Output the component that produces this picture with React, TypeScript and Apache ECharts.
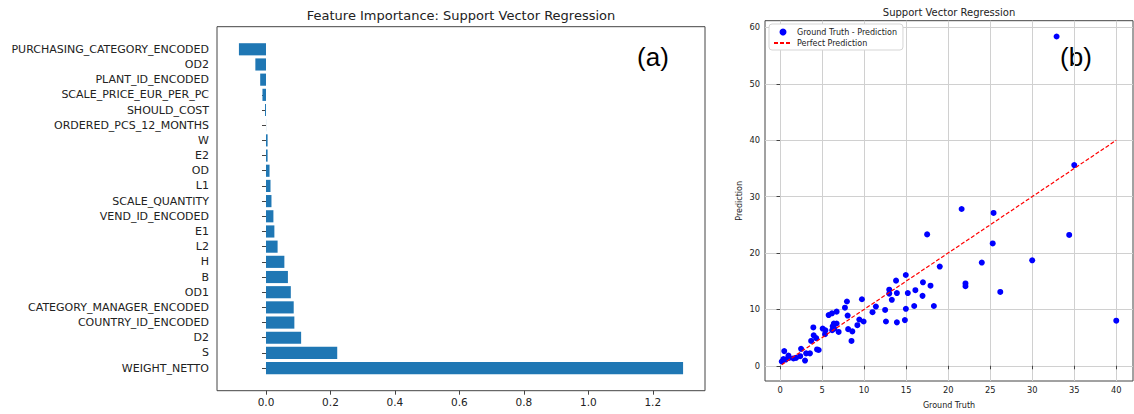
import React, { useEffect, useRef } from "react";
import * as echarts from "echarts";

// ---------- Panel (a): feature importance (listed bottom -> top) ----------
const featureNames = [
  "WEIGHT_NETTO", "S", "D2", "COUNTRY_ID_ENCODED", "CATEGORY_MANAGER_ENCODED",
  "OD1", "B", "H", "L2", "E1", "VEND_ID_ENCODED", "SCALE_QUANTITY", "L1", "OD",
  "E2", "W", "ORDERED_PCS_12_MONTHS", "SHOULD_COST", "SCALE_PRICE_EUR_PER_PC",
  "PLANT_ID_ENCODED", "OD2", "PURCHASING_CATEGORY_ENCODED",
];
const importance = [
  1.294, 0.221, 0.109, 0.088, 0.086,
  0.077, 0.068, 0.057, 0.036, 0.026, 0.023, 0.017, 0.014, 0.011,
  0.005, 0.005, 0.0003, -0.003, -0.011,
  -0.018, -0.033, -0.084,
];
const importanceTicks = [0, 0.2, 0.4, 0.6, 0.8, 1.0, 1.2];

// ---------- Panel (b): ground truth vs prediction ----------
const groundTruth = [
  0.2, 0.5, 0.4, 0.67, 1.0, 1.07, 1.6, 1.9, 2.4, 2.5, 2.97, 3.1, 3.56, 3.7,
  3.96, 4.0, 4.3, 4.4, 4.6, 5.07, 5.35, 5.4, 5.78, 6.18, 6.2, 6.26, 6.4, 6.45,
  6.73, 6.73, 6.97, 7.72, 7.96, 8.04, 8.1, 8.5, 8.6, 9.2, 9.43, 9.74, 9.94,
  11.0, 11.4, 12.5, 12.6, 12.99, 12.99, 13.3, 13.8, 13.9, 13.9, 14.85, 14.97,
  14.96, 15.2, 15.96, 16.1, 16.95, 17.0, 17.5, 17.9, 18.3, 19.0, 21.6, 22.06,
  22.06, 24.0, 25.3, 25.4, 26.2, 30.0, 32.9, 34.4, 35.0, 40.0,
];
const prediction = [
  0.76, 2.6, 1.2, 1.1, 1.8, 1.4, 1.3, 1.4, 1.7, 3.0, 0.93, 2.2, 2.2, 4.4,
  6.8, 5.4, 4.9, 2.9, 2.8, 6.6, 5.6, 6.3, 9.0, 9.3, 6.3, 7.0, 7.5, 6.6,
  7.5, 9.6, 6.0, 10.3, 11.4, 8.9, 6.5, 4.4, 6.1, 7.2, 8.2, 11.8, 7.85,
  9.5, 10.5, 9.9, 7.85, 13.5, 12.8, 11.7, 15.1, 12.9, 7.7, 8.1, 10.1,
  16.1, 12.9, 10.6, 13.4, 12.4, 14.8, 23.3, 14.2, 10.6, 17.6, 27.8, 14.6,
  14.1, 18.3, 21.7, 27.1, 13.1, 18.7, 58.4, 23.2, 35.6, 8.0,
];
const gtTicks = [0, 5, 10, 15, 20, 25, 30, 35, 40];
const predTicks = [0, 10, 20, 30, 40, 50, 60];

const FONT = "DejaVu Sans";
const TXT = "#222";
const FRAME = "#444";

export default function App() {
  const ref = useRef<HTMLDivElement>(null);

  useEffect(() => {
    if (!ref.current) return;
    const chart = echarts.init(ref.current, undefined, { renderer: "svg" });

    const scatterData = groundTruth.map((g, i) => [g, prediction[i]]);
    const gMin = Math.min(...groundTruth);
    const gMax = Math.max(...groundTruth);

    chart.setOption({
      animation: false,
      backgroundColor: "#ffffff",
      textStyle: { fontFamily: FONT },
      grid: [
        { left: 217, right: 429, top: 41.7, bottom: 38.3, show: false },
        { left: 217, right: 429, top: 26.7, bottom: 23.3, show: true, borderColor: FRAME, borderWidth: 1, backgroundColor: "transparent" },
        { left: 765, right: 1, top: 20.7, bottom: 28, show: true, borderColor: FRAME, borderWidth: 1, backgroundColor: "transparent" },
      ],
      xAxis: [
        {
          type: "value", gridIndex: 0, min: -0.152, max: 1.362, offset: 15,
          axisLine: { show: false },
          axisTick: { show: true, length: 4, inside: false, lineStyle: { color: FRAME }, customValues: importanceTicks },
          axisLabel: { color: TXT, fontSize: 10.5, margin: 6, customValues: importanceTicks, formatter: (v: number) => v.toFixed(1) },
          splitLine: { show: false },
        },
        { type: "value", gridIndex: 1, show: false, min: 0, max: 1 },
        {
          type: "value", gridIndex: 2, min: -1.79, max: 41.99,
          name: "Ground Truth", nameLocation: "middle", nameGap: 20,
          nameTextStyle: { color: TXT, fontSize: 8, fontFamily: FONT },
          axisLine: { show: false },
          axisTick: { show: true, length: 3.5, lineStyle: { color: FRAME }, customValues: gtTicks },
          axisLabel: { color: TXT, fontSize: 8.3, margin: 5, customValues: gtTicks },
          splitLine: { show: true, lineStyle: { color: "#d0d0d0", width: 1 } },
        },
      ],
      yAxis: [
        {
          type: "category", gridIndex: 0, data: featureNames,
          axisLine: { show: false },
          axisTick: { show: true, alignWithLabel: true, length: 4, lineStyle: { color: FRAME } },
          axisLabel: { color: TXT, fontSize: 11, margin: 8, interval: 0 },
          splitLine: { show: false },
        },
        { type: "value", gridIndex: 1, show: false, min: 0, max: 1 },
        {
          type: "value", gridIndex: 2, min: -2.7, max: 61.2,
          name: "Prediction", nameLocation: "middle", nameGap: 22, nameRotate: 90,
          nameTextStyle: { color: TXT, fontSize: 8, fontFamily: FONT },
          axisLine: { show: false },
          axisTick: { show: true, length: 3.5, lineStyle: { color: FRAME }, customValues: predTicks },
          axisLabel: { color: TXT, fontSize: 8.3, margin: 5, customValues: predTicks },
          splitLine: { show: true, lineStyle: { color: "#d0d0d0", width: 1 } },
        },
      ],
      legend: {
        orient: "vertical",
        left: 769, top: 24,
        backgroundColor: "#ffffff",
        borderColor: "#d5d5d5", borderWidth: 1, borderRadius: 3,
        padding: [4, 6, 3, 4],
        itemGap: 3, itemWidth: 18, itemHeight: 7,
        textStyle: { color: TXT, fontSize: 8, fontFamily: FONT },
        data: [
          { name: "Ground Truth - Prediction", icon: "circle" },
          { name: "Perfect Prediction", itemStyle: { opacity: 0 } },
        ],
      },
      series: [
        {
          type: "bar", xAxisIndex: 0, yAxisIndex: 0,
          data: importance, barWidth: "80%",
          itemStyle: { color: "#1f77b4" },
        },
        {
          name: "Ground Truth - Prediction",
          type: "scatter", xAxisIndex: 2, yAxisIndex: 2,
          data: scatterData, symbol: "circle", symbolSize: 6,
          itemStyle: { color: "#0000ff", opacity: 1 },
          z: 3,
        },
        {
          name: "Perfect Prediction",
          type: "line", xAxisIndex: 2, yAxisIndex: 2,
          data: [[gMin, gMin], [gMax, gMax]],
          symbol: "none", showSymbol: false,
          lineStyle: { color: "#ff0000", type: [4, 2], width: 1.2 },
          itemStyle: { color: "#ff0000" },
          z: 4,
        },
      ],
      graphic: [
        { type: "text", x: 461, y: 15, style: { text: "Feature Importance: Support Vector Regression", fill: TXT, font: `13px '${FONT}'`, textAlign: "center", textVerticalAlign: "middle" } },
        { type: "text", x: 949, y: 12, style: { text: "Support Vector Regression", fill: TXT, font: `10px '${FONT}'`, textAlign: "center", textVerticalAlign: "middle" } },
        { type: "text", x: 653, y: 57, style: { text: "(a)", fill: "#000", font: `26px 'Liberation Sans'`, textAlign: "center", textVerticalAlign: "middle" } },
        { type: "text", x: 1076, y: 57, style: { text: "(b)", fill: "#000", font: `26px 'Liberation Sans'`, textAlign: "center", textVerticalAlign: "middle" } },
      ],
    });

    return () => chart.dispose();
  }, []);

  return (
    <div
      ref={ref}
      style={{ position: "fixed", left: 0, top: 0, width: 1134, height: 414, background: "#fff" }}
    />
  );
}
